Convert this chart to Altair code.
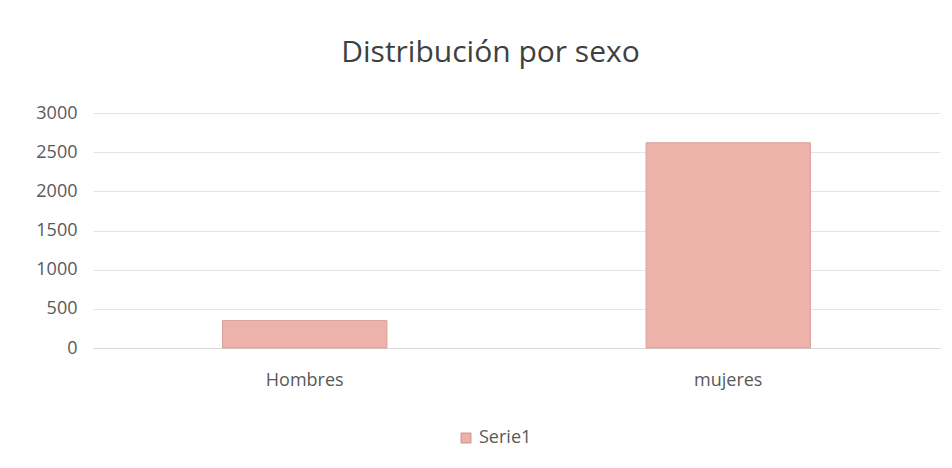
import altair as alt
import pandas as pd

categories = ["Hombres", "mujeres"]
values = [350, 2620]
series = ["Serie1", "Serie1"]

df = pd.DataFrame({"sexo": categories, "valor": values, "serie": series})

FONT = "Open Sans"
chart = alt.Chart(df).mark_bar(
    fill="#EDB3AB", stroke="#D6A199", strokeWidth=1
).encode(
    x=alt.X("sexo:N", sort=categories,
            scale=alt.Scale(paddingInner=0.612, paddingOuter=0.306),
            axis=alt.Axis(title=None, labelAngle=0, ticks=False, domain=True,
                          domainColor="#D9D9D9", labelFontSize=18, labelFont=FONT,
                          labelColor="#595959", labelPadding=23)),
    y=alt.Y("valor:Q", scale=alt.Scale(domain=[0, 3000]),
            axis=alt.Axis(title=None, values=[0, 500, 1000, 1500, 2000, 2500, 3000],
                          format="d", ticks=False, domain=False, gridColor="#E4E4E4",
                          labelFontSize=18, labelFont=FONT, labelColor="#595959",
                          labelPadding=16)),
    color=alt.Color("serie:N", scale=alt.Scale(range=["#EDB3AB"]),
                    legend=alt.Legend(title=None, orient="none", legendX=364, legendY=316,
                                      symbolType="square", symbolSize=90,
                                      symbolStrokeColor="#D6A199",
                                      labelFontSize=18, labelFont=FONT, labelColor="#595959")),
).properties(
    width=847, height=235,
    title=alt.TitleParams("Distribución por sexo", fontSize=30, font=FONT,
                          fontWeight="normal", color="#404040", offset=36, dx=-26),
    autosize=alt.AutoSizeParams(type="none"),
    padding={"left": 85, "top": 105, "right": 4, "bottom": 112},
).configure_view(stroke=None)

chart.save("out.html", embed_options={"renderer": "svg", "actions": False})
